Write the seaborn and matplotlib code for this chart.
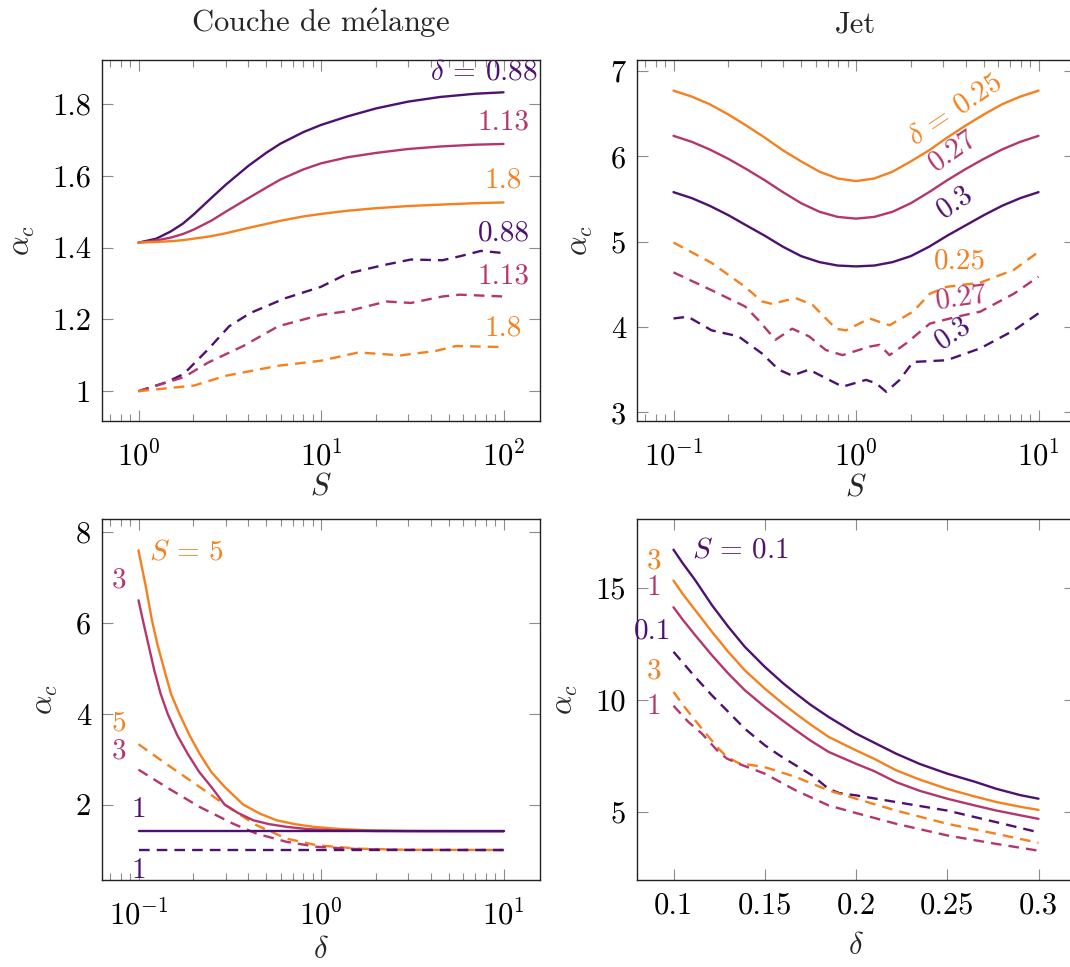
import numpy as np
import pandas as pd
import seaborn as sns
import matplotlib.pyplot as plt
from matplotlib.ticker import FuncFormatter, LogLocator, NullFormatter, FixedLocator

# colours of the three parameter values
purple = '#4e1170'
magenta = '#b5366c'
orange = '#f5801d'

# ---- Couche de melange : alpha_c vs S (delta = 0.88, 1.13, 1.8)
ml_S = [1, 1.25, 1.5, 1.75, 2, 2.5, 3, 4, 5, 6, 8, 10, 14, 20, 30, 45, 70, 100]
ml_solid_088 = [1.414, 1.425, 1.445, 1.467, 1.492, 1.538, 1.575, 1.628, 1.664, 1.690, 1.722, 1.742,
                1.766, 1.788, 1.807, 1.820, 1.829, 1.833]
ml_solid_113 = [1.414, 1.420, 1.428, 1.438, 1.450, 1.475, 1.500, 1.538, 1.567, 1.590, 1.618, 1.635,
                1.652, 1.664, 1.675, 1.682, 1.687, 1.689]
ml_solid_180 = [1.414, 1.416, 1.418, 1.421, 1.425, 1.432, 1.440, 1.455, 1.466, 1.475, 1.487, 1.494,
                1.503, 1.510, 1.516, 1.520, 1.524, 1.526]
ml_S_d088 = [1, 1.42, 1.77, 2.41, 3.14, 4.1, 6.36, 10, 14, 21.8, 31.1, 46.3, 57.6, 75.2, 100]
ml_dash_088 = [1.0, 1.025, 1.048, 1.117, 1.181, 1.218, 1.259, 1.291, 1.328, 1.351, 1.367, 1.365, 1.376, 1.391, 1.385]
ml_S_d113 = [1, 1.77, 2.41, 3.75, 5.83, 10, 14, 22.8, 31.1, 46.3, 57.6, 100]
ml_dash_113 = [1.0, 1.039, 1.080, 1.126, 1.181, 1.213, 1.223, 1.250, 1.246, 1.264, 1.269, 1.264]
ml_S_d180 = [1, 2.02, 3.01, 5.83, 10, 16, 27.3, 42.3, 55, 100]
ml_dash_180 = [1.0, 1.016, 1.043, 1.071, 1.085, 1.108, 1.100, 1.112, 1.126, 1.123]

# ---- Jet : alpha_c vs S (delta = 0.25, 0.27, 0.3)
jet_S = [0.1, 0.126, 0.158, 0.2, 0.251, 0.316, 0.398, 0.501, 0.631, 0.794, 1,
         1.259, 1.585, 1.995, 2.512, 3.162, 3.981, 5.012, 6.31, 7.943, 10]
jet_solid_025 = [6.77, 6.70, 6.61, 6.49, 6.36, 6.22, 6.07, 5.94, 5.82, 5.74, 5.71,
                 5.74, 5.82, 5.94, 6.07, 6.22, 6.36, 6.49, 6.61, 6.70, 6.77]
jet_solid_027 = [6.24, 6.17, 6.08, 5.97, 5.85, 5.72, 5.58, 5.45, 5.35, 5.29, 5.27,
                 5.29, 5.35, 5.45, 5.58, 5.72, 5.85, 5.97, 6.08, 6.17, 6.24]
jet_solid_030 = [5.58, 5.51, 5.42, 5.31, 5.19, 5.07, 4.94, 4.83, 4.76, 4.72, 4.71,
                 4.72, 4.76, 4.83, 4.94, 5.07, 5.19, 5.31, 5.42, 5.51, 5.58]
jet_S_d025 = [0.1, 0.162, 0.247, 0.305, 0.347, 0.466, 0.577, 0.776, 0.881, 1.185, 1.527, 2.055, 2.54, 3.14, 4.8, 7.33, 10]
jet_dash_025 = [4.99, 4.75, 4.47, 4.30, 4.27, 4.34, 4.26, 3.98, 3.96, 4.10, 4.02, 4.18, 4.39, 4.47, 4.52, 4.67, 4.88]
jet_S_d027 = [0.1, 0.162, 0.247, 0.292, 0.362, 0.447, 0.553, 0.683, 0.844, 1.185, 1.345, 1.527, 1.888, 2.54, 3.57, 4.8, 7.33, 10]
jet_dash_027 = [4.64, 4.43, 4.24, 4.08, 3.85, 3.98, 3.89, 3.73, 3.67, 3.77, 3.79, 3.67, 3.81, 4.04, 4.12, 4.18, 4.39, 4.59]
jet_S_d030 = [0.1, 0.12, 0.162, 0.227, 0.305, 0.377, 0.447, 0.553, 0.683, 0.844, 1.135, 1.289, 1.464, 1.735, 2.055, 3.14, 4.8, 7.33, 10]
jet_dash_030 = [4.10, 4.12, 3.96, 3.89, 3.69, 3.50, 3.43, 3.50, 3.40, 3.30, 3.38, 3.34, 3.24, 3.38, 3.59, 3.61, 3.75, 3.96, 4.16]

# ---- Couche de melange : alpha_c vs delta (S = 1, 3, 5)
mld_solid_d5 = [0.1, 0.1052, 0.1098, 0.1185, 0.1273, 0.1387, 0.1507, 0.1675, 0.1902, 0.2163, 0.2505,
                0.2966, 0.375, 0.4633, 0.571, 0.72, 0.911, 1.3, 1.79, 3, 10]
mld_solid_5 = [7.60, 7.16, 6.79, 6.06, 5.51, 4.96, 4.44, 4.00, 3.53, 3.12, 2.72,
               2.39, 2.00, 1.80, 1.655, 1.57, 1.51, 1.46, 1.435, 1.418, 1.414]
mld_solid_d3 = [0.1, 0.1065, 0.1143, 0.122, 0.132, 0.1445, 0.163, 0.186, 0.215, 0.2506, 0.2966,
                0.35, 0.4254, 0.52, 0.649, 0.85, 1.175, 2, 4, 10]
mld_solid_3 = [6.50, 6.00, 5.46, 4.96, 4.45, 4.00, 3.53, 3.12, 2.72, 2.39, 2.00,
               1.82, 1.655, 1.57, 1.51, 1.46, 1.435, 1.418, 1.414, 1.414]
mld_solid_d1 = [0.1, 1, 10]
mld_solid_1 = [1.414, 1.414, 1.414]
mld_dash_d = [0.1, 0.1415, 0.216, 0.33, 0.444, 0.649, 0.951, 1.6, 3, 10]
mld_dash_5 = [3.33, 2.90, 2.39, 1.875, 1.545, 1.25, 1.105, 1.03, 1.005, 1.0]
mld_dash_3 = [2.77, 2.39, 1.95, 1.58, 1.36, 1.18, 1.07, 1.02, 1.003, 1.0]
mld_dash_1 = [1.0, 1.0, 1.0, 1.0, 1.0, 1.0, 1.0, 1.0, 1.0, 1.0]

# ---- Jet : alpha_c vs delta (S = 0.1, 1, 3)
jd_delta = [0.1, 0.105, 0.1118, 0.121, 0.130, 0.139, 0.15, 0.16, 0.167, 0.175, 0.185,
            0.2, 0.21, 0.222, 0.235, 0.25, 0.265, 0.277, 0.29, 0.3]
jd_solid_01 = [16.72, 16.12, 15.37, 14.25, 13.28, 12.39, 11.49, 10.76, 10.30, 9.80, 9.25,
               8.51, 8.10, 7.61, 7.15, 6.72, 6.36, 6.04, 5.76, 5.60]
jd_solid_3 = [15.34, 14.75, 14.03, 13.06, 12.16, 11.34, 10.52, 9.84, 9.40, 8.92, 8.36,
              7.76, 7.38, 6.87, 6.45, 6.04, 5.70, 5.45, 5.24, 5.10]
jd_solid_1 = [14.15, 13.60, 12.91, 12.01, 11.19, 10.45, 9.70, 9.08, 8.66, 8.20, 7.69,
              7.16, 6.83, 6.34, 5.95, 5.60, 5.30, 5.07, 4.86, 4.70]
jd_d01 = [0.1, 0.1118, 0.121, 0.130, 0.139, 0.15, 0.158, 0.167, 0.176, 0.185, 0.1909, 0.2, 0.222, 0.25, 0.277, 0.3]
jd_dash_01 = [12.16, 11.04, 10.22, 9.48, 8.73, 7.99, 7.54, 7.09, 6.64, 6.04, 5.85, 5.75, 5.45, 5.07, 4.55, 4.10]
jd_d3 = [0.1, 0.106, 0.1155, 0.1247, 0.1293, 0.1357, 0.15, 0.167, 0.185, 0.2, 0.222, 0.25, 0.277, 0.3]
jd_dash_3 = [10.37, 9.70, 8.73, 7.84, 7.46, 7.19, 7.01, 6.57, 5.97, 5.60, 5.07, 4.48, 4.03, 3.63]
jd_d1 = [0.1, 0.1081, 0.1155, 0.1247, 0.1293, 0.1357, 0.15, 0.167, 0.185, 0.2, 0.222, 0.25, 0.277, 0.3]
jd_dash_1 = [9.75, 9.03, 8.51, 7.69, 7.39, 7.16, 6.72, 5.97, 5.30, 4.96, 4.48, 3.96, 3.58, 3.28]


def long_df(curves):
    rows = []
    for xs, ys, grp, kind in curves:
        for x, y in zip(xs, ys):
            rows.append({'x': x, 'y': y, 'grp': grp, 'kind': kind})
    return pd.DataFrame(rows)


def draw(ax, curves, palette):
    df = long_df(curves)
    sns.lineplot(data=df, x='x', y='y', hue='grp', style='kind', palette=palette,
                 dashes={'solid': '', 'dashed': (4.5, 3)}, estimator=None,
                 linewidth=1.7, legend=False, ax=ax)


def style_axes(ax, logx):
    ax.tick_params(which='both', direction='in', top=True, right=True, bottom=True, left=True,
                   color='#8c8c8c', width=0.8, labelsize=22, labelcolor='black')
    ax.tick_params(which='major', length=8, pad=8)
    ax.tick_params(which='minor', length=5)
    for sp in ax.spines.values():
        sp.set_color('#222222')
        sp.set_linewidth(1.0)
    if logx:
        ax.set_xscale('log')
        ax.xaxis.set_major_locator(LogLocator(base=10))
        ax.xaxis.set_minor_locator(LogLocator(base=10, subs=np.arange(2, 10)))
        ax.xaxis.set_major_formatter(FuncFormatter(lambda v, p: r'$\mathrm{10^{%d}}$' % round(np.log10(v))))
        ax.xaxis.set_minor_formatter(NullFormatter())
        ax.tick_params(axis='x', which='major', pad=14)
    else:
        ax.xaxis.set_major_formatter(FuncFormatter(lambda v, p: '%g' % v))
        ax.tick_params(axis='x', which='major', pad=9)
    ax.yaxis.set_major_formatter(FuncFormatter(lambda v, p: '%g' % v))
    ax.set_ylabel(r'$\alpha_c$', fontsize=22, labelpad=11)


def label(ax, x, y, s, c, rot=0):
    ax.text(x, y, s, color=c, fontsize=21, ha='center', va='center',
            rotation=rot, rotation_mode='anchor')


sns.set_style('white')
plt.rcParams['font.family'] = ['cmr10', 'DejaVu Serif']
plt.rcParams['mathtext.fontset'] = 'cm'
plt.rcParams['axes.unicode_minus'] = False

fig = plt.figure(figsize=(10.7, 9.67), dpi=100)
W, H = 1070, 967
def box(x0, y0, x1, y1):
    return [x0 / W, 1 - y1 / H, (x1 - x0) / W, (y1 - y0) / H]

ax1 = fig.add_axes(box(102, 60, 540, 421))
ax2 = fig.add_axes(box(637, 60, 1075, 421))
ax3 = fig.add_axes(box(102, 519, 540, 880))
ax4 = fig.add_axes(box(637, 519, 1075, 880))

# top left
draw(ax1, [(ml_S, ml_solid_088, '0.88', 'solid'), (ml_S, ml_solid_113, '1.13', 'solid'),
           (ml_S, ml_solid_180, '1.8', 'solid'), (ml_S_d088, ml_dash_088, '0.88', 'dashed'),
           (ml_S_d113, ml_dash_113, '1.13', 'dashed'), (ml_S_d180, ml_dash_180, '1.8', 'dashed')],
     {'0.88': purple, '1.13': magenta, '1.8': orange})
style_axes(ax1, True)
ax1.set_xlim(10 ** -0.2, 10 ** 2.2)
ax1.set_ylim(0.917, 1.923)
ax1.yaxis.set_major_locator(FixedLocator([1, 1.2, 1.4, 1.6, 1.8]))
ax1.set_xlabel(r'$S$', fontsize=22, labelpad=1)
ax1.set_title('Couche de m' + r'$\acute{\mathrm{e}}$' + 'lange', fontsize=22, pad=20)
label(ax1, 78, 1.889, r'$\delta$ = 0.88', purple)
label(ax1, 100, 1.750, '1.13', magenta)
label(ax1, 100, 1.588, '1.8', orange)
label(ax1, 100, 1.440, '0.88', purple)
label(ax1, 100, 1.321, '1.13', magenta)
label(ax1, 100, 1.176, '1.8', orange)

# top right
draw(ax2, [(jet_S, jet_solid_025, '0.25', 'solid'), (jet_S, jet_solid_027, '0.27', 'solid'),
           (jet_S, jet_solid_030, '0.3', 'solid'), (jet_S_d025, jet_dash_025, '0.25', 'dashed'),
           (jet_S_d027, jet_dash_027, '0.27', 'dashed'), (jet_S_d030, jet_dash_030, '0.3', 'dashed')],
     {'0.25': orange, '0.27': magenta, '0.3': purple})
style_axes(ax2, True)
ax2.set_xlim(10 ** -1.2, 10 ** 1.2)
ax2.set_ylim(2.898, 7.129)
ax2.yaxis.set_major_locator(FixedLocator([3, 4, 5, 6, 7]))
ax2.set_xlabel(r'$S$', fontsize=22, labelpad=2)
ax2.set_title('Jet', fontsize=22, pad=20)
label(ax2, 3.49, 6.54, r'$\delta$ = 0.25', orange, 34)
label(ax2, 3.37, 6.07, '0.27', magenta, 35)
label(ax2, 3.49, 5.46, '0.3', purple, 34)
label(ax2, 3.72, 4.77, '0.25', orange)
label(ax2, 3.80, 4.34, '0.27', magenta, 8)
label(ax2, 3.39, 3.93, '0.3', purple, 34)

# bottom left
draw(ax3, [(mld_solid_d5, mld_solid_5, '5', 'solid'), (mld_solid_d3, mld_solid_3, '3', 'solid'),
           (mld_solid_d1, mld_solid_1, '1', 'solid'), (mld_dash_d, mld_dash_5, '5', 'dashed'),
           (mld_dash_d, mld_dash_3, '3', 'dashed'), (mld_dash_d, mld_dash_1, '1', 'dashed')],
     {'5': orange, '3': magenta, '1': purple})
style_axes(ax3, True)
ax3.set_xlim(10 ** -1.2, 10 ** 1.2)
ax3.set_ylim(0.34, 8.29)
ax3.yaxis.set_major_locator(FixedLocator([2, 4, 6, 8]))
ax3.set_xlabel(r'$\delta$', fontsize=22, labelpad=4)
label(ax3, 0.184, 7.56, r'$S$ = 5', orange)
label(ax3, 0.0782, 6.94, '3', magenta)
label(ax3, 0.0782, 3.80, '5', orange)
label(ax3, 0.0782, 3.17, '3', magenta)
label(ax3, 0.1, 1.875, '1', purple)
label(ax3, 0.1, 0.55, '1', purple)

# bottom right
draw(ax4, [(jd_delta, jd_solid_01, '0.1', 'solid'), (jd_delta, jd_solid_3, '3', 'solid'),
           (jd_delta, jd_solid_1, '1', 'solid'), (jd_d01, jd_dash_01, '0.1', 'dashed'),
           (jd_d3, jd_dash_3, '3', 'dashed'), (jd_d1, jd_dash_1, '1', 'dashed')],
     {'0.1': purple, '3': orange, '1': magenta})
style_axes(ax4, False)
ax4.set_xlim(0.08, 0.32)
ax4.set_ylim(1.97, 18.09)
ax4.xaxis.set_major_locator(FixedLocator([0.1, 0.15, 0.2, 0.25, 0.3]))
ax4.yaxis.set_major_locator(FixedLocator([5, 10, 15]))
ax4.set_xlabel(r'$\delta$', fontsize=22, labelpad=9)
label(ax4, 0.1366, 16.67, r'$S$ = 0.1', purple)
label(ax4, 0.0893, 16.19, '3', orange)
label(ax4, 0.0893, 15.0, '1', magenta)
label(ax4, 0.0888, 13.06, '0.1', purple)
label(ax4, 0.0893, 11.27, '3', orange)
label(ax4, 0.0893, 9.70, '1', magenta)

fig.savefig('out.png', dpi=100)
